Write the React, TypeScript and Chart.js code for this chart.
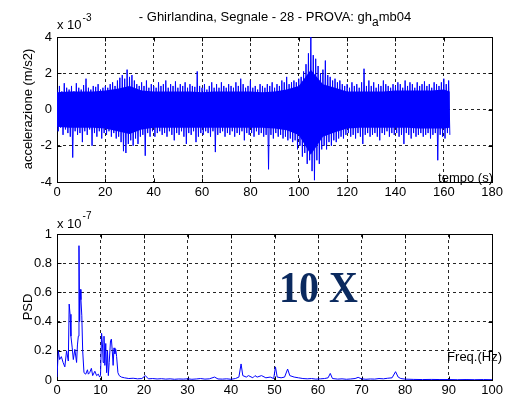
import React, { useEffect, useRef } from "react";
import { Chart, registerables } from "chart.js";

Chart.register(...registerables);

// ---- Top plot: acceleration extremes per second (x 10^-3 m/s2) ----
const signalUpper = [
  1.1, 1.3, 1.0, 1.45, 1.2, 1.1, 1.3, 1.0, 1.45, 1.2,
  1.1, 1.35, 1.7, 1.2, 1.1, 1.3, 1.25, 1.4, 1.1, 1.2,
  1.3, 1.2, 1.4, 1.5, 1.3, 1.6, 1.75, 1.9, 1.7, 2.2,
  1.8, 1.9, 1.6, 1.4, 1.3, 1.5, 1.3, 1.6, 1.2, 1.4,
  1.3, 1.2, 1.5, 1.3, 1.4, 1.6, 1.2, 1.4, 1.3, 1.55,
  1.2, 1.4, 1.3, 1.5, 1.2, 1.4, 1.3, 1.25, 2.1, 1.3,
  1.2, 1.4, 1.1, 1.3, 1.5, 1.2, 1.4, 1.2, 1.5, 1.3,
  1.2, 1.4, 1.3, 1.2, 1.5, 1.3, 1.7, 1.4, 1.2, 1.3,
  1.6, 1.2, 1.3, 1.1, 1.4, 1.3, 1.2, 1.4, 1.3, 1.5,
  1.2, 1.4, 1.3, 1.6, 1.5, 1.8, 1.4, 1.5, 1.6, 1.5,
  1.7, 1.8, 2.1, 2.5, 3.1, 4.0, 3.0, 2.8, 2.4, 2.0,
  2.2, 2.7, 1.9, 1.8, 1.6, 1.7, 1.5, 1.6, 1.4, 1.3,
  1.4, 1.2, 1.5, 1.3, 1.4, 1.2, 1.5, 2.25, 1.3, 1.6,
  1.3, 1.5, 1.2, 1.4, 1.3, 1.6, 1.4, 1.3, 1.2, 1.4,
  1.3, 1.5, 1.4, 1.2, 1.6, 1.3, 1.5, 1.4, 1.2, 1.5,
  1.3, 1.4, 1.55, 1.3, 1.4, 1.2, 1.5, 1.4, 1.3, 1.5,
  1.7, 1.4, 1.6,
];
const signalLower = [
  -1.2, -1.0, -1.4, -1.1, -1.3, -1.5, -2.65, -1.2, -1.4, -1.3,
  -1.8, -1.2, -1.4, -1.1, -2.0, -1.3, -1.5, -1.2, -1.6, -1.3,
  -1.4, -1.2, -1.5, -1.3, -1.6, -1.5, -1.8, -2.3, -2.4, -1.9,
  -1.7, -2.0, -1.6, -1.9, -1.5, -1.4, -2.55, -1.3, -1.5, -1.2,
  -1.5, -1.3, -1.2, -1.4, -1.3, -1.5, -1.2, -1.4, -1.7, -1.3,
  -1.4, -1.2, -1.5, -1.9, -1.3, -1.4, -1.2, -1.8, -1.5, -1.3,
  -1.4, -1.2, -1.3, -1.5, -1.2, -2.35, -1.4, -1.3, -1.2, -1.5,
  -1.3, -1.4, -1.2, -1.5, -1.3, -1.4, -1.2, -1.7, -1.3, -1.4,
  -1.3, -1.5, -1.2, -1.4, -1.3, -1.5, -1.4, -3.3, -1.4, -1.6,
  -1.3, -1.5, -1.4, -1.6, -1.5, -1.7, -1.6, -1.8, -1.7, -2.2,
  -2.0, -2.6, -2.4, -3.0, -2.8, -3.4, -3.9, -2.8, -3.0, -2.2,
  -2.0, -2.2, -1.8, -2.0, -1.7, -1.8, -1.6, -1.5, -1.6, -1.4,
  -1.3, -1.5, -1.4, -1.6, -1.3, -1.5, -1.9, -1.4, -1.3, -1.5,
  -1.4, -1.3, -1.5, -1.7, -1.3, -1.4, -1.2, -1.5, -1.3, -1.4,
  -1.3, -1.5, -1.4, -1.9, -1.3, -1.4, -1.6, -1.3, -1.5, -1.4,
  -1.3, -1.5, -1.4, -1.3, -1.6, -1.4, -1.3, -2.8, -1.4, -1.5,
  -1.6, -1.3, -1.4,
];

// dense core of the signal (x 10^-3), read every 5 s
const coreTime = [
  0, 5, 10, 15, 20, 25, 30, 35, 40, 45, 50, 55, 60, 65, 70, 75, 80,
  85, 90, 95, 100, 105, 110, 115, 120, 125, 130, 135, 140, 145, 150, 155, 160, 162.5,
];
const coreUpper = [
  0.95, 1.0, 1.0, 1.0, 1.05, 1.15, 1.3, 1.05, 1.0, 1.0, 1.0, 1.0, 0.95, 1.0, 1.0, 1.0, 1.0,
  0.95, 1.0, 1.1, 1.3, 2.2, 1.4, 1.2, 1.0, 1.0, 1.0, 1.0, 1.05, 1.05, 1.05, 1.05, 1.1, 1.0,
];
const coreLower = [
  -0.95, -1.0, -1.0, -1.0, -1.05, -1.2, -1.35, -1.1, -1.0, -1.0, -1.0, -1.0, -1.0, -1.0, -1.0, -1.0, -1.0,
  -1.0, -1.05, -1.15, -1.4, -2.5, -1.5, -1.25, -1.05, -1.0, -1.0, -1.0, -1.0, -1.0, -1.05, -1.05, -1.05, -1.0,
];

// ---- Bottom plot: PSD (x 10^-7) ----
const psdFreq = [
  0, 0.3, 0.6, 1.0, 1.4, 1.8, 2.2, 2.6, 2.8, 3.0,
  3.2, 3.5, 3.75, 4.1, 4.5, 4.7, 4.9, 5.05, 5.2, 5.35,
  5.5, 5.7, 5.9, 6.2, 6.6, 7.0, 7.2, 7.5, 7.9, 8.2,
  8.7, 9.1, 9.5, 9.8, 10.0, 10.25, 10.45, 10.6, 10.8, 11.0,
  11.2, 11.4, 11.6, 11.8, 12.0, 12.3, 12.5, 12.7, 12.9, 13.1,
  13.3, 13.5, 13.7, 14.0, 14.3, 14.8, 15.5, 16.5, 17.5, 18.5,
  19.5, 20.3, 21, 22, 23, 24, 25, 26, 27, 28,
  29, 30, 31, 32, 33, 34, 35, 36.2, 37, 38,
  39, 40, 41, 41.8, 42.3, 42.7, 43.5, 44, 45, 45.5,
  46, 47, 48, 49, 49.8, 50.2, 50.6, 51.5, 52.3, 53.0,
  53.5, 54.5, 55.5, 56.5, 57.5, 58.5, 59.5, 60.5, 61.5, 62.3,
  62.8, 63.3, 64.5, 65.5, 66.5, 67.5, 68.5, 69.2, 70, 71,
  72, 73, 74, 75, 76, 77, 77.8, 78.4, 79, 80,
  82, 84, 86, 88, 90, 92, 94, 96, 98, 100,
];
const psdValue = [
  0.02, 0.2, 0.14, 0.16, 0.12, 0.09, 0.2, 0.13, 0.52, 0.45,
  0.3, 0.22, 0.14, 0.21, 0.12, 0.24, 0.3, 0.92, 0.4, 0.62,
  0.55, 0.44, 0.2, 0.05, 0.04, 0.07, 0.04, 0.05, 0.08, 0.03,
  0.06, 0.03, 0.04, 0.02, 0.03, 0.32, 0.24, 0.12, 0.3, 0.1,
  0.25, 0.05, 0.2, 0.03, 0.12, 0.27, 0.28, 0.2, 0.1, 0.22,
  0.18, 0.21, 0.16, 0.05, 0.03, 0.02, 0.015, 0.01, 0.012, 0.008,
  0.01, 0.03, 0.008, 0.01, 0.007, 0.009, 0.006, 0.008, 0.005, 0.007,
  0.006, 0.008, 0.005, 0.007, 0.01, 0.006, 0.008, 0.02, 0.007, 0.006,
  0.008, 0.005, 0.01, 0.02, 0.11, 0.03, 0.02, 0.03, 0.015, 0.03,
  0.02, 0.03, 0.015, 0.02, 0.01, 0.09, 0.02, 0.015, 0.02, 0.075,
  0.03, 0.02, 0.015, 0.01, 0.008, 0.01, 0.006, 0.008, 0.01, 0.015,
  0.045, 0.01, 0.006, 0.008, 0.005, 0.007, 0.01, 0.018, 0.008, 0.005,
  0.007, 0.006, 0.01, 0.008, 0.012, 0.015, 0.057, 0.02, 0.01, 0.006,
  0.004, 0.003, 0.004, 0.003, 0.003, 0.002, 0.003, 0.002, 0.003, 0.002,
];

const titleParts = ["- Ghirlandina, Segnale - 28 - PROVA: gh", "a", "mb04"];
const topYLabel = "accelerazione (m/s2)";
const topXLabel = "tempo (s)";
const topExponent = "-3";
const bottomYLabel = "PSD";
const bottomXLabel = "Freq.(Hz)";
const bottomExponent = "-7";
const overlayText = "10 X";

const FONT = '"Liberation Sans", Arial, Helvetica, sans-serif';
const BLUE = "#0000ff";

type TextItem = {
  text: string;
  x: number;
  y: number;
  font: string;
  align?: CanvasTextAlign;
  color?: string;
  rotate?: number;
  scaleY?: number;
};

function makeTextPlugin(items: TextItem[], extra?: (ctx: CanvasRenderingContext2D) => void) {
  return {
    id: "texts",
    afterDraw(chart: any) {
      const ctx: CanvasRenderingContext2D = chart.ctx;
      items.forEach((it) => {
        ctx.save();
        ctx.font = it.font;
        ctx.fillStyle = it.color || "#000";
        ctx.textAlign = it.align || "left";
        ctx.textBaseline = "alphabetic";
        ctx.translate(it.x, it.y);
        if (it.rotate) ctx.rotate(it.rotate);
        if (it.scaleY) ctx.scale(1, it.scaleY);
        ctx.fillText(it.text, 0, 0);
        ctx.restore();
      });
      if (extra) extra(ctx);
    },
  };
}

const boxPlugin = {
  id: "box",
  beforeDatasetsDraw(chart: any) {
    const ctx: CanvasRenderingContext2D = chart.ctx;
    const { left, right, top, bottom } = chart.chartArea;
    const L = Math.round(left) + 0.5;
    const R = Math.round(right) + 0.5;
    const T = Math.round(top) + 0.5;
    const B = Math.round(bottom) + 0.5;
    ctx.save();
    ctx.strokeStyle = "#000";
    ctx.lineWidth = 1;
    ctx.setLineDash([]);
    ctx.strokeRect(L, T, R - L, B - T);
    const tl = 4;
    ctx.beginPath();
    chart.scales.x.ticks.forEach((t: any) => {
      const px = Math.round(chart.scales.x.getPixelForValue(t.value)) + 0.5;
      ctx.moveTo(px, B);
      ctx.lineTo(px, B - tl);
      ctx.moveTo(px, T);
      ctx.lineTo(px, T + tl);
    });
    chart.scales.y.ticks.forEach((t: any) => {
      const py = Math.round(chart.scales.y.getPixelForValue(t.value)) + 0.5;
      ctx.moveTo(L, py);
      ctx.lineTo(L + tl, py);
      ctx.moveTo(R, py);
      ctx.lineTo(R - tl, py);
    });
    ctx.stroke();
    ctx.restore();
  },
};

function axisCommon(min: number, max: number, step: number, fixed: number, isX: boolean, fmt?: (v: number) => string) {
  return {
    type: "linear",
    min,
    max,
    afterFit(scale: any) {
      if (isX) scale.height = fixed;
      else scale.width = fixed;
    },
    ticks: {
      stepSize: step,
      autoSkip: false,
      maxRotation: 0,
      padding: isX ? 3 : 5,
      color: "#000",
      font: { family: FONT, size: 13 },
      callback: fmt ? (v: any) => fmt(Number(v)) : undefined,
    },
    grid: {
      color: "rgba(0,0,0,0.85)",
      lineWidth: 1,
      drawTicks: false,
    },
    border: { display: false, dash: [3, 3] },
  };
}

function TopChart() {
  const ref = useRef<HTMLCanvasElement | null>(null);
  useEffect(() => {
    if (!ref.current) return;
    const pts: { x: number; y: number }[] = [];
    for (let i = 0; i < signalUpper.length; i++) {
      pts.push({ x: i, y: signalUpper[i] });
      pts.push({ x: i + 0.5, y: signalLower[i] });
    }
    const coreUp = coreTime.map((t, i) => ({ x: t, y: coreUpper[i] }));
    const coreLo = coreTime.map((t, i) => ({ x: t, y: coreLower[i] }));
    const titleExtra = (ctx: CanvasRenderingContext2D) => {
      ctx.save();
      ctx.fillStyle = "#000";
      ctx.textAlign = "left";
      ctx.textBaseline = "alphabetic";
      const f1 = "13px " + FONT;
      const f2 = "12px " + FONT;
      ctx.font = f1;
      const w0 = ctx.measureText(titleParts[0]).width;
      const w2 = ctx.measureText(titleParts[2]).width;
      ctx.font = f2;
      const w1 = ctx.measureText(titleParts[1]).width;
      const total = w0 + w1 + w2;
      let x = 275 - total / 2;
      const y = 21;
      ctx.font = f1;
      ctx.fillText(titleParts[0], x, y);
      x += w0;
      ctx.font = f2;
      ctx.fillText(titleParts[1], x, y + 5);
      x += w1;
      ctx.font = f1;
      ctx.fillText(titleParts[2], x, y);
      ctx.font = f1;
      ctx.fillText("x 10", 57, 29);
      const wx = ctx.measureText("x 10").width;
      ctx.font = "10px " + FONT;
      ctx.fillText(topExponent, 57 + wx + 1, 21);
      ctx.restore();
    };
    const texts: TextItem[] = [
      { text: topXLabel, x: 493, y: 182, font: "13px " + FONT, align: "right" },
      { text: topYLabel, x: 32, y: 109, font: "13px " + FONT, align: "center", rotate: -Math.PI / 2 },
    ];
    const chart = new Chart(ref.current, {
      type: "line",
      data: {
        datasets: [
          {
            data: coreUp,
            borderWidth: 0,
            borderColor: BLUE,
            backgroundColor: BLUE,
            pointRadius: 0,
            tension: 0,
            fill: "+1",
          },
          {
            data: coreLo,
            borderWidth: 0,
            borderColor: BLUE,
            pointRadius: 0,
            tension: 0,
            fill: false,
          },
          {
            data: pts,
            borderColor: BLUE,
            borderWidth: 1,
            pointRadius: 0,
            tension: 0,
            fill: false,
          },
        ],
      },
      options: {
        animation: false,
        responsive: false,
        devicePixelRatio: 1,
        parsing: false,
        layout: { padding: { top: 37, right: 13, left: 0, bottom: 0 } },
        plugins: { legend: { display: false }, tooltip: { enabled: false }, title: { display: false } },
        scales: {
          x: axisCommon(0, 180, 20, 18, true) as any,
          y: axisCommon(-4, 4, 2, 57, false) as any,
        },
      },
      plugins: [boxPlugin, makeTextPlugin(texts, titleExtra)],
    } as any);
    return () => chart.destroy();
  }, []);
  return <canvas ref={ref} width={506} height={200} style={{ display: "block" }} />;
}

function BottomChart() {
  const ref = useRef<HTMLCanvasElement | null>(null);
  useEffect(() => {
    if (!ref.current) return;
    const pts = psdFreq.map((f, i) => ({ x: f, y: psdValue[i] }));
    const extra = (ctx: CanvasRenderingContext2D) => {
      ctx.save();
      ctx.fillStyle = "#000";
      ctx.textAlign = "left";
      ctx.textBaseline = "alphabetic";
      ctx.font = "13px " + FONT;
      ctx.fillText("x 10", 57, 28);
      const wx = ctx.measureText("x 10").width;
      ctx.font = "10px " + FONT;
      ctx.fillText(bottomExponent, 57 + wx + 1, 19);
      ctx.restore();
    };
    const texts: TextItem[] = [
      { text: bottomXLabel, x: 502, y: 161, font: "13px " + FONT, align: "right" },
      { text: bottomYLabel, x: 32, y: 107, font: "13px " + FONT, align: "center", rotate: -Math.PI / 2 },
      {
        text: overlayText,
        x: 279,
        y: 102,
        font: 'bold 40px "Liberation Serif", "Times New Roman", serif',
        align: "left",
        color: "#0b2a5f",
        scaleY: 1.12,
      },
    ];
    const fmt = (v: number) => String(Math.round(v * 10) / 10);
    const chart = new Chart(ref.current, {
      type: "line",
      data: {
        datasets: [
          {
            data: pts,
            borderColor: BLUE,
            borderWidth: 1,
            pointRadius: 0,
            tension: 0,
            fill: false,
          },
        ],
      },
      options: {
        animation: false,
        responsive: false,
        devicePixelRatio: 1,
        parsing: false,
        layout: { padding: { top: 34, right: 13, left: 0, bottom: 0 } },
        plugins: { legend: { display: false }, tooltip: { enabled: false }, title: { display: false } },
        scales: {
          x: axisCommon(0, 100, 10, 23, true) as any,
          y: axisCommon(0, 1, 0.2, 57, false, fmt) as any,
        },
      },
      plugins: [boxPlugin, makeTextPlugin(texts, extra)],
    } as any);
    return () => chart.destroy();
  }, []);
  return <canvas ref={ref} width={506} height={203} style={{ display: "block" }} />;
}

export default function App() {
  return (
    <div
      style={{
        position: "fixed",
        left: 0,
        top: 0,
        width: 506,
        height: 403,
        background: "#fff",
        overflow: "hidden",
      }}
    >
      <TopChart />
      <BottomChart />
    </div>
  );
}
